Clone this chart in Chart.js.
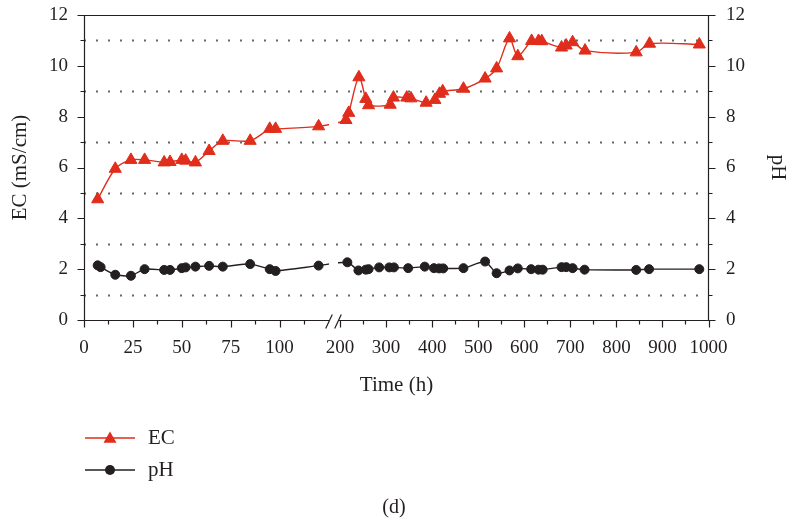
<!DOCTYPE html>
<html>
<head>
<meta charset="utf-8">
<title>EC and pH</title>
<script src="https://cdn.jsdelivr.net/npm/chart.js@4.4.0/dist/chart.umd.min.js"></script>
<style>
    html, body { margin: 0; padding: 0; background: #fff; }
</style>
</head>
<body>
<canvas id="chart" width="788" height="525"></canvas>
<script>
// sampling times (h) and readings
const ecHours = [7, 16, 24, 31, 41, 44, 50, 52, 57, 64, 71, 85, 95, 98, 120,
    213, 219, 241, 256, 262, 309, 316, 345, 354, 387, 406, 416, 423, 468, 515,
    540, 568, 586, 616, 631, 638, 681, 691, 705, 732, 843, 872, 980];
const ecValues = [4.75, 5.95, 6.3, 6.3, 6.2, 6.22, 6.3, 6.27, 6.2, 6.65, 7.05, 7.05, 7.52, 7.52, 7.62,
    7.87, 8.15, 9.55, 8.7, 8.45, 8.47, 8.75, 8.75, 8.72, 8.55, 8.66, 8.9, 9.0, 9.1, 9.5,
    9.9, 11.08, 10.38, 10.98, 10.98, 10.97, 10.72, 10.8, 10.93, 10.6, 10.53, 10.87, 10.84];

const phHours = [7, 8.5, 16, 24, 31, 41, 44, 50, 52, 57, 64, 71, 85, 95, 98, 120,
    216, 240, 256, 262, 285, 307, 317, 348, 384, 404, 415, 424, 468, 515,
    540, 568, 586, 615, 631, 640, 681, 691, 705, 731, 843, 871, 980];
const phValues = [2.15, 2.08, 1.78, 1.74, 2.0, 1.97, 1.97, 2.04, 2.07, 2.1, 2.13, 2.1, 2.2, 2.0, 1.93, 2.14,
    2.27, 1.95, 1.98, 2.0, 2.07, 2.07, 2.07, 2.04, 2.1, 2.04, 2.03, 2.03, 2.04, 2.3,
    1.84, 1.95, 2.03, 2.0, 1.98, 1.98, 2.08, 2.08, 2.04, 1.98, 1.97, 2.0, 2.0];

// axis ticks
const majorHours = [0, 25, 50, 75, 100, 200, 300, 400, 500, 600, 700, 800, 900, 1000];
const minorHours = [12.5, 37.5, 62.5, 87.5, 112.5, 250, 350, 450, 550, 650, 750, 850, 950];
const yTickValues = [0, 1, 2, 3, 4, 5, 6, 7, 8, 9, 10, 11, 12];

// broken time axis: first 100 h stretched, 200-1000 h compressed
const segments = [
    { from: 0, to: 100, start: 0, end: 195.5 },
    { from: 200, to: 1000, start: 256, end: 624.5 }
];
const AXIS_MAX = 625;
const BREAK_AT = [245, 254]; // axis units where lines and the x axis are cut

function axisPos(h) {
    const s = h < 160 ? segments[0] : segments[1];
    return s.start + (h - s.from) * (s.end - s.start) / (s.to - s.from);
}

const FONT = "'Liberation Serif', 'Times New Roman', serif";
const INK = '#231f20';
const RED = '#e02d1c';

// dotted guide lines at the odd EC values, then cut the data lines at the break
const breakPlugin = {
    id: 'lineBreak',
    beforeDatasetsDraw(chart) {
        const { ctx, chartArea: a, scales: { x, y } } = chart;
        ctx.save();
        ctx.strokeStyle = '#666';
        ctx.lineWidth = 1.8;
        ctx.setLineDash([2, 10]);
        yTickValues.filter(v => v % 2).forEach(v => {
            const py = Math.round(y.getPixelForValue(v)) + 0.5;
            ctx.beginPath();
            ctx.moveTo(a.left, py);
            ctx.lineTo(a.right - 4, py);
            ctx.stroke();
        });
        ctx.restore();

        const g0 = x.getPixelForValue(BREAK_AT[0]);
        const g1 = x.getPixelForValue(BREAK_AT[1]);
        ctx.save();
        ctx.beginPath();
        ctx.rect(0, 0, g0, chart.height);
        ctx.rect(g1, 0, chart.width - g1, chart.height);
        ctx.clip();
    },
    afterDatasetsDraw(chart) {
        chart.ctx.restore();
    }
};

// box, tick marks and the // marks on the x axis
const framePlugin = {
    id: 'frame',
    afterDraw(chart) {
        const { ctx, chartArea: a, scales: { x, y, y1 } } = chart;
        const L = Math.round(a.left) + 0.5, R = Math.round(a.right) - 0.5;
        const T = Math.round(a.top) + 0.5, B = Math.round(a.bottom) + 0.5;
        const g0 = x.getPixelForValue(BREAK_AT[0]);
        const g1 = x.getPixelForValue(BREAK_AT[1]);

        ctx.save();
        ctx.strokeStyle = INK;
        ctx.lineWidth = 1.2;
        ctx.beginPath();
        ctx.moveTo(L, B); ctx.lineTo(L, T); ctx.lineTo(R, T); ctx.lineTo(R, B);
        ctx.moveTo(L, B); ctx.lineTo(g0, B);
        ctx.moveTo(g1, B); ctx.lineTo(R, B);

        majorHours.forEach(h => {
            const px = Math.round(x.getPixelForValue(axisPos(h))) + 0.5;
            ctx.moveTo(px, B); ctx.lineTo(px, B + 7);
        });
        minorHours.forEach(h => {
            const px = Math.round(x.getPixelForValue(axisPos(h))) + 0.5;
            ctx.moveTo(px, B); ctx.lineTo(px, B + 4);
        });
        yTickValues.forEach(v => {
            const len = v % 2 ? 4 : 7;
            const pl = Math.round(y.getPixelForValue(v)) + 0.5;
            const pr = Math.round(y1.getPixelForValue(v)) + 0.5;
            ctx.moveTo(L, pl); ctx.lineTo(L - len, pl);
            ctx.moveTo(R, pr); ctx.lineTo(R + len, pr);
        });
        ctx.stroke();

        ctx.beginPath();
        [g0, g1].forEach(gx => {
            ctx.moveTo(gx - 3.3, B + 8);
            ctx.lineTo(gx + 3.3, B - 6);
        });
        ctx.stroke();
        ctx.restore();
    }
};

// legend under the plot plus the panel letter
const legendPlugin = {
    id: 'stackedLegend',
    afterDraw(chart) {
        const ctx = chart.ctx;
        chart.data.datasets.forEach((ds, i) => {
            const yy = 438 + i * 32;
            ctx.save();
            ctx.strokeStyle = ds.borderColor;
            ctx.lineWidth = ds.borderWidth;
            ctx.beginPath();
            ctx.moveTo(85, yy);
            ctx.lineTo(135, yy);
            ctx.stroke();
            ctx.fillStyle = ds.backgroundColor;
            Chart.helpers.drawPoint(ctx, {
                pointStyle: ds.pointStyle, rotation: 0,
                radius: ds.pointRadius + 0.5, borderWidth: 0
            }, 110, ds.pointStyle === 'triangle' ? yy + 1 : yy);
            ctx.fillStyle = INK;
            ctx.font = '21px ' + FONT;
            ctx.textBaseline = 'middle';
            ctx.textAlign = 'left';
            ctx.fillText(ds.label, 148, yy);
            ctx.restore();
        });

        ctx.save();
        ctx.fillStyle = INK;
        ctx.font = '20px ' + FONT;
        ctx.textAlign = 'center';
        ctx.textBaseline = 'middle';
        ctx.fillText('(d)', 394, 508);
        ctx.restore();
    }
};

const ctx = document.getElementById('chart').getContext('2d');

new Chart(ctx, {
    type: 'line',
    data: {
        datasets: [{
            label: 'EC',
            data: ecHours.map((h, i) => ({ x: axisPos(h), y: ecValues[i] })),
            yAxisID: 'y',
            borderColor: RED,
            backgroundColor: RED,
            borderWidth: 1.4,
            pointStyle: 'triangle',
            pointRadius: 7,
            pointBorderWidth: 1,
            tension: 0.3
        }, {
            label: 'pH',
            data: phHours.map((h, i) => ({ x: axisPos(h), y: phValues[i] })),
            yAxisID: 'y1',
            borderColor: INK,
            backgroundColor: INK,
            borderWidth: 1.4,
            pointStyle: 'circle',
            pointRadius: 4.5,
            pointBorderWidth: 1,
            tension: 0.2
        }]
    },
    options: {
        responsive: false,
        animation: false,
        layout: { padding: { top: 15, bottom: 125, left: 0, right: 0 } },
        plugins: {
            legend: { display: false },
            tooltip: { enabled: false }
        },
        scales: {
            x: {
                type: 'linear',
                min: 0,
                max: AXIS_MAX,
                grid: { display: false, drawTicks: false },
                border: { display: false },
                afterBuildTicks: s => { s.ticks = majorHours.map(h => ({ value: axisPos(h) })); },
                afterFit: s => { s.height = 80; },
                ticks: {
                    autoSkip: false,
                    maxRotation: 0,
                    padding: 17,
                    color: INK,
                    font: { family: FONT, size: 19 },
                    callback: (v, i) => majorHours[i]
                },
                title: {
                    display: true,
                    text: 'Time (h)',
                    color: INK,
                    font: { family: FONT, size: 21 },
                    padding: { top: 0, bottom: 2 }
                }
            },
            y: {
                position: 'left',
                min: 0,
                max: 12,
                afterBuildTicks: s => { s.ticks = yTickValues.map(v => ({ value: v })); },
                afterFit: s => { s.width = 84; s.paddingTop = 0; s.paddingBottom = 0; },
                ticks: {
                    padding: 16,
                    color: INK,
                    font: { family: FONT, size: 19 },
                    callback: v => (v % 2 ? '' : v)
                },
                grid: { display: false, drawTicks: false },
                border: { display: false },
                title: {
                    display: true,
                    text: 'EC (mS/cm)',
                    color: INK,
                    font: { family: FONT, size: 21 },
                    padding: { top: 8, bottom: 0 }
                }
            },
            y1: {
                position: 'right',
                min: 0,
                max: 12,
                afterBuildTicks: s => { s.ticks = yTickValues.filter(v => v % 2 === 0).map(v => ({ value: v })); },
                afterFit: s => { s.width = 79; s.paddingTop = 0; s.paddingBottom = 0; },
                ticks: {
                    padding: 17,
                    color: INK,
                    font: { family: FONT, size: 19 }
                },
                grid: { display: false, drawTicks: false },
                border: { display: false },
                title: {
                    display: true,
                    text: 'pH',
                    color: INK,
                    font: { family: FONT, size: 21, lineHeight: 1 },
                    padding: { top: 0, bottom: 0 }
                }
            }
        }
    },
    plugins: [breakPlugin, framePlugin, legendPlugin]
});
</script>
</body>
</html>
